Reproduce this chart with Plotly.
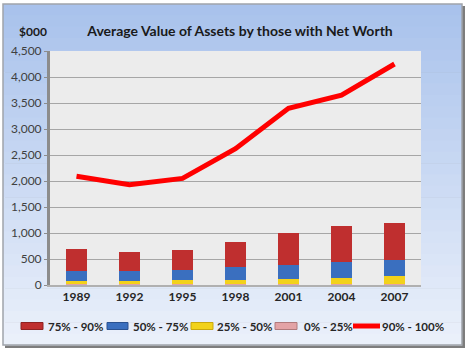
import plotly.graph_objects as go

years = ["1989", "1992", "1995", "1998", "2001", "2004", "2007"]
p0_25 = [10, 10, 10, 10, 10, 10, 10]
p25_50 = [70, 65, 85, 95, 100, 120, 160]
p50_75 = [190, 185, 195, 235, 270, 310, 320]
p75_90 = [430, 380, 390, 490, 620, 690, 710]
p90_100 = [2090, 1930, 2050, 2620, 3400, 3650, 4250]

FONT = "Lato"
W, H = 468, 352
ML, MR, MT, MB = 50, 47, 51, 67
PW, PH = W - ML - MR, H - MT - MB

def px(x):
    return (x - ML) / PW

def py(y):
    return (H - MB - y) / PH

C_PINK, C_YEL, C_BLUE, C_RED, C_LINE = "#e3a3a6", "#f2d21b", "#3a6fbf", "#bf2f2f", "#ff0000"

fig = go.Figure()
bar_w = 0.41
fig.add_bar(x=years, y=p0_25, name="0% - 25%", marker=dict(color=C_PINK, line=dict(width=0)), width=bar_w)
fig.add_bar(x=years, y=p25_50, name="25% - 50%", marker=dict(color=C_YEL, line=dict(width=0)), width=bar_w)
fig.add_bar(x=years, y=p50_75, name="50% - 75%", marker=dict(color=C_BLUE, line=dict(width=0)), width=bar_w)
fig.add_bar(x=years, y=p75_90, name="75% - 90%", marker=dict(color=C_RED, line=dict(width=0)), width=bar_w)
fig.add_scatter(x=years, y=p90_100, name="90% - 100%", mode="lines", line=dict(color=C_LINE, width=5))

# background frame with vertical gradient made of thin bands
top_rgb = (169, 194, 236)
bot_rgb = (234, 240, 250)
fx0, fx1, fy0, fy1 = 3, 462, 4, 345
shapes = [
    dict(type="rect", xref="paper", yref="paper", x0=px(fx0 + 2), x1=px(fx1 + 3), y0=py(fy1 + 3), y1=py(fy0 + 2),
         fillcolor="#7d7d7d", line=dict(width=0), layer="below"),
]
n_bands = 30
for i in range(n_bands):
    t = i / (n_bands - 1)
    c = tuple(round(top_rgb[k] + (bot_rgb[k] - top_rgb[k]) * t) for k in range(3))
    y_a = fy0 + (fy1 - fy0) * i / n_bands
    y_b = fy0 + (fy1 - fy0) * (i + 1) / n_bands
    shapes.append(dict(type="rect", xref="paper", yref="paper", x0=px(fx0), x1=px(fx1),
                       y0=py(y_b + 0.6), y1=py(y_a), fillcolor="rgb(%d,%d,%d)" % c,
                       line=dict(width=0), layer="below"))
shapes.append(dict(type="rect", xref="paper", yref="paper", x0=px(fx0), x1=px(fx1), y0=py(fy1), y1=py(fy0),
                   fillcolor="rgba(0,0,0,0)", line=dict(color="#a0a4ab", width=1.5), layer="below"))
shapes.append(dict(type="rect", xref="x domain", yref="y domain", x0=0, x1=1, y0=0, y1=1,
                   fillcolor="#ececec", line=dict(width=0), layer="below"))

# legend drawn as swatches + text (order as in the reference)
annotations = [dict(text="<b>$000</b>", xref="paper", yref="paper",
                    x=px(33), y=py(31), xanchor="center", yanchor="middle", showarrow=False,
                    font=dict(family=FONT, size=12, color="#1a1a1a"))]
LEG_Y = 326
leg_items = [
    ("75% - 90%", C_RED, "#8e2222", 21, 43, 48, "bar"),
    ("50% - 75%", C_BLUE, "#2a5190", 107, 128, 133, "bar"),
    ("25% - 50%", C_YEL, "#c9a80e", 191, 213, 217, "bar"),
    ("0% - 25%", C_PINK, "#b07a7c", 275, 297, 304, "bar"),
    ("90% - 100%", C_LINE, C_LINE, 353, 380, 382, "line"),
]
for name, col, edge, s0, s1, tx, kind in leg_items:
    if kind == "bar":
        shapes.append(dict(type="rect", xref="paper", yref="paper", x0=px(s0), x1=px(s1),
                           y0=py(LEG_Y + 3.5), y1=py(LEG_Y - 3.5), fillcolor=col,
                           line=dict(color=edge, width=1)))
    else:
        shapes.append(dict(type="line", xref="paper", yref="paper", x0=px(s0), x1=px(s1),
                           y0=py(LEG_Y), y1=py(LEG_Y), line=dict(color=col, width=5)))
    annotations.append(dict(text="<b>%s</b>" % name, xref="paper", yref="paper",
                            x=px(tx), y=py(LEG_Y), xanchor="left", yanchor="middle",
                            showarrow=False, xshift=-2,
                            font=dict(family=FONT, size=11.5, color="#262626")))

fig.update_layout(
    width=W, height=H,
    margin=dict(l=ML, r=MR, t=MT, b=MB, autoexpand=False),
    paper_bgcolor="white",
    plot_bgcolor="rgba(0,0,0,0)",
    barmode="stack",
    bargap=0.59,
    showlegend=False,
    shapes=shapes,
    annotations=annotations,
    font=dict(family=FONT, size=11, color="#404040"),
    title=dict(text="Average Value of Assets by those with Net Worth",
               x=240 / W, xanchor="center", xref="container",
               y=1 - 31 / H, yanchor="middle", yref="container",
               font=dict(family=FONT, size=14, color="#1a1a1a", weight="bold")),
    xaxis=dict(showgrid=False, showline=True, linecolor="#b0b0b0", linewidth=2,
               ticks="", tickfont=dict(family=FONT, size=12, color="#262626", weight="bold")),
    yaxis=dict(range=[0, 4500], dtick=500, tickformat=",d", showgrid=True,
               gridcolor="#a6a6a6", gridwidth=1, showline=True, linecolor="#8c8c8c",
               linewidth=3, mirror=False, ticks="outside", ticklen=3, tickcolor="#8c8c8c",
               tickfont=dict(family=FONT, size=12, color="#404040"), zeroline=False),
)

fig.write_html("out.html")
